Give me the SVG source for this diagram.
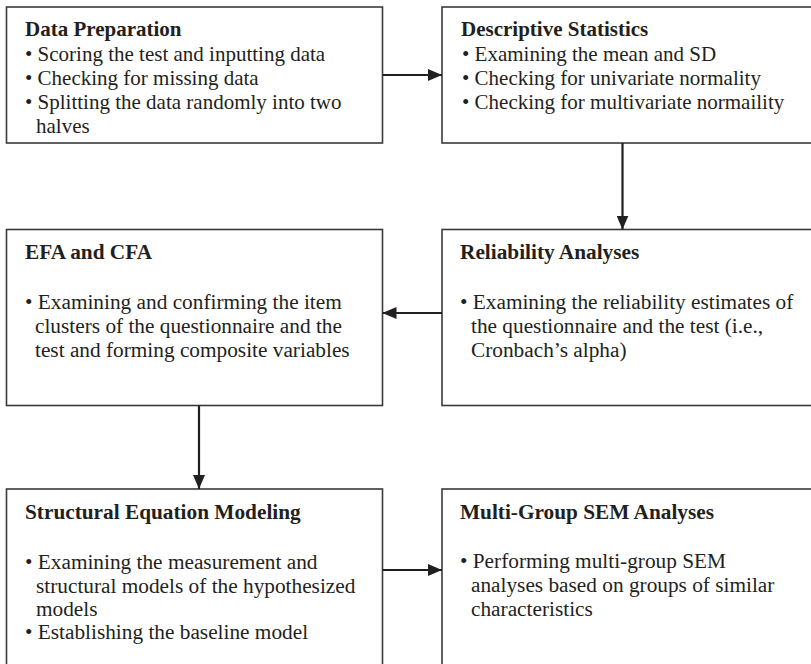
<svg xmlns="http://www.w3.org/2000/svg" width="811" height="664" viewBox="0 0 811 664">
  <defs>
    <marker id="ah" viewBox="0 0 14 12" refX="14" refY="6" markerWidth="14" markerHeight="12" markerUnits="userSpaceOnUse" orient="auto">
      <path d="M0,0 L14,6 L0,12 Z" fill="#231f20"/>
    </marker>
  </defs>
  <style>
    .box { fill: #ffffff; stroke: #3a3a3a; stroke-width: 1.6; }
    .t { font-family: "Liberation Serif", "Times New Roman", serif; fill: #231f20; }
    .h { font-weight: bold; }
    .s1 { font-size: 21px; }
    .s2 { font-size: 21.3px; }
    .conn { stroke: #231f20; stroke-width: 2.2; fill: none; marker-end: url(#ah); }
  </style>
  <rect width="811" height="664" fill="#ffffff"/>

  <g id="node-data-preparation">
    <rect class="box" x="6.5" y="7" width="376" height="136"/>
    <text class="t s1 h" x="25" y="36">Data Preparation</text>
    <text class="t s1" x="25" y="61">• Scoring the test and inputting data</text>
    <text class="t s1" x="25" y="85">• Checking for missing data</text>
    <text class="t s1" x="25" y="109">• Splitting the data randomly into two</text>
    <text class="t s1" x="36" y="133">halves</text>
  </g>

  <g id="node-descriptive-statistics">
    <rect class="box" x="442" y="7" width="400" height="136"/>
    <text class="t s1 h" x="461" y="36">Descriptive Statistics</text>
    <text class="t s1" x="462" y="61">• Examining the mean and SD</text>
    <text class="t s1" x="462" y="85">• Checking for univariate normality</text>
    <text class="t s1" x="462" y="109">• Checking for multivariate normaility</text>
  </g>

  <g id="node-efa-cfa">
    <rect class="box" x="6.5" y="229.5" width="376" height="176"/>
    <text class="t s2 h" x="25" y="259">EFA and CFA</text>
    <text class="t s2" x="25" y="309">• Examining and confirming the item</text>
    <text class="t s2" x="35" y="333">clusters of the questionnaire and the</text>
    <text class="t s2" x="35" y="357">test and forming composite variables</text>
  </g>

  <g id="node-reliability">
    <rect class="box" x="442" y="229.5" width="400" height="176"/>
    <text class="t s2 h" x="460" y="259">Reliability Analyses</text>
    <text class="t s2" x="460" y="309">• Examining the reliability estimates of</text>
    <text class="t s2" x="471" y="333">the questionnaire and the test (i.e.,</text>
    <text class="t s2" x="471" y="357">Cronbach’s alpha)</text>
  </g>

  <g id="node-sem">
    <rect class="box" x="6.5" y="489" width="376" height="200"/>
    <text class="t s2 h" x="25" y="519">Structural Equation Modeling</text>
    <text class="t s2" x="25" y="569">• Examining the measurement and</text>
    <text class="t s2" x="36" y="593">structural models of the hypothesized</text>
    <text class="t s2" x="36" y="616">models</text>
    <text class="t s2" x="25" y="639">• Establishing the baseline model</text>
  </g>

  <g id="node-multigroup">
    <rect class="box" x="442" y="489" width="400" height="200"/>
    <text class="t s2 h" x="460" y="519">Multi-Group SEM Analyses</text>
    <text class="t s2" x="460" y="568">• Performing multi-group SEM</text>
    <text class="t s2" x="471" y="592">analyses based on groups of similar</text>
    <text class="t s2" x="471" y="616">characteristics</text>
  </g>

  <g id="connectors">
    <line class="conn" x1="382.5" y1="75" x2="442" y2="75"/>
    <line class="conn" x1="622.5" y1="143" x2="622.5" y2="229.5"/>
    <line class="conn" x1="442" y1="313" x2="382.5" y2="313"/>
    <line class="conn" x1="199" y1="405.5" x2="199" y2="489"/>
    <line class="conn" x1="382.5" y1="570" x2="442" y2="570"/>
  </g>
</svg>
